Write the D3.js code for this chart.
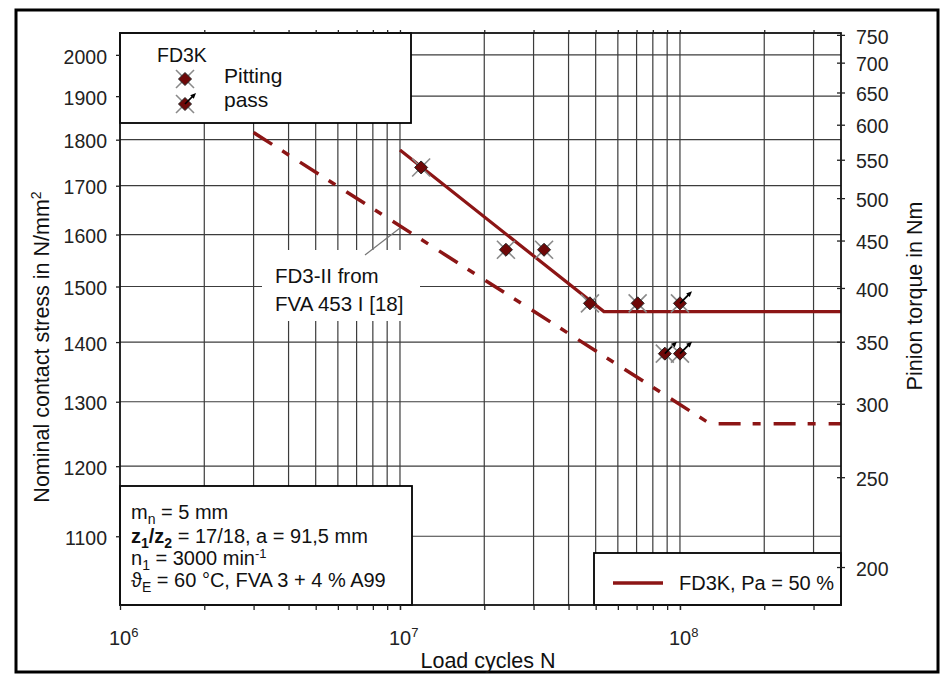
<!DOCTYPE html>
<html>
<head>
<meta charset="utf-8">
<script src="https://cdn.jsdelivr.net/npm/d3@7"></script>
<style>
body { margin: 0; background: #fff; }
svg { display: block; font-family: "Liberation Sans", Arial, sans-serif; }
</style>
</head>
<body>
<svg width="944" height="674"></svg>
<script>
// S-N curves (load cycles vs nominal contact stress)
var fd3kCycles = [1e7, 5.35e7, 3.76e8]
var fd3kStress = [1777, 1454, 1454]
var fd3iiCycles = [3e6, 1.28e8, 3.76e8]
var fd3iiStress = [1816, 1265, 1265]

// test points
var pittingCycles = [1.19e7, 2.39e7, 3.27e7, 4.77e7, 7.06e7]
var pittingStress = [1739, 1570, 1570, 1469, 1469]
var passCycles = [1.0e8, 8.83e7, 1.0e8]
var passStress = [1469, 1380, 1380]

// ticks
var stressTicks = [1100, 1200, 1300, 1400, 1500, 1600, 1700, 1800, 1900, 2000]
var torqueTicks = [200, 250, 300, 350, 400, 450, 500, 550, 600, 650, 700, 750]
var decadeTicks = [1e6, 1e7, 1e8]
var decadeExp = ["6", "7", "8"]
var cycleGrid = [2e6, 3e6, 4e6, 5e6, 6e6, 7e6, 8e6, 9e6, 1e7,
                 2e7, 3e7, 4e7, 5e7, 6e7, 7e7, 8e7, 9e7, 1e8, 2e8, 3e8]

var red = "#8c1515"
var gridColor = "#3c3c3c"

var svg = d3.select("svg")

var pLeft = 120, pRight = 841, pTop = 33, pBottom = 605

var x = d3.scaleLog().domain([1e6, 3.76e8]).range([pLeft, pRight])
var y = d3.scaleLog().domain([1010, 2055]).range([pBottom, pTop])
var yT = d3.scaleLog().domain([182, 753.5]).range([pBottom, pTop])

svg.append("rect")
    .attr("width", 944).attr("height", 674).attr("fill", "#fff")

// outer frame
svg.append("rect")
    .attr("x", 16).attr("y", 10)
    .attr("width", 922).attr("height", 662)
    .attr("fill", "none")
    .attr("stroke", "#000")
    .attr("stroke-width", 3)

// grid
var grid = svg.append("g").attr("stroke", gridColor).attr("stroke-width", 1.2)
grid.selectAll("line.v")
    .data(cycleGrid)
    .enter().append("line")
    .attr("class", "v")
    .attr("x1", function(d) { return x(d) })
    .attr("x2", function(d) { return x(d) })
    .attr("y1", pTop).attr("y2", pBottom)
grid.selectAll("line.h")
    .data(stressTicks)
    .enter().append("line")
    .attr("class", "h")
    .attr("x1", pLeft).attr("x2", pRight)
    .attr("y1", function(d) { return y(d) })
    .attr("y2", function(d) { return y(d) })

// annotation for FD3-II
svg.append("rect")
    .attr("x", 262).attr("y", 250)
    .attr("width", 158).attr("height", 71)
    .attr("fill", "#fff")
svg.append("line")
    .attr("x1", 365).attr("y1", 255)
    .attr("x2", x(1e7)).attr("y2", 228)
    .attr("stroke", "#777")
    .attr("stroke-width", 1.2)
var note = svg.append("text")
    .attr("font-size", 20.5)
    .attr("fill", "#111")
note.append("tspan").attr("x", 275).attr("y", 283).text("FD3-II from")
note.append("tspan").attr("x", 275).attr("y", 311).text("FVA 453 I [18]")

// curves
var line = d3.line()
    .x(function(d) { return x(d[0]) })
    .y(function(d) { return y(d[1]) })

svg.append("path")
    .datum(d3.zip(fd3iiCycles, fd3iiStress))
    .attr("d", line)
    .attr("fill", "none")
    .attr("stroke", red)
    .attr("stroke-width", 3.5)
    .attr("stroke-dasharray", "22,12,8,13")

svg.append("path")
    .datum(d3.zip(fd3kCycles, fd3kStress))
    .attr("d", line)
    .attr("fill", "none")
    .attr("stroke", red)
    .attr("stroke-width", 3.2)

// markers
function marker(g, pass, len) {
    g.append("line").attr("x1", -9).attr("y1", -9).attr("x2", 9).attr("y2", 9)
        .attr("stroke", "#8a8a8a").attr("stroke-width", 1.6)
    g.append("line").attr("x1", -9).attr("y1", 9).attr("x2", 9).attr("y2", -9)
        .attr("stroke", "#8a8a8a").attr("stroke-width", 1.6)
    g.append("path")
        .attr("d", "M0,-6.5L6.5,0L0,6.5L-6.5,0Z")
        .attr("fill", "#6e0808")
        .attr("stroke", "#222")
        .attr("stroke-width", 1)
    if (pass) {
        g.append("line").attr("x1", 0).attr("y1", 0).attr("x2", len - 3).attr("y2", -(len - 3))
            .attr("stroke", "#000").attr("stroke-width", 1.6)
        g.append("path")
            .attr("d", "M" + len + "," + (-len) + "L" + (len - 2.2) + "," + (-len + 5.8) +
                "L" + (len - 5.8) + "," + (-len + 2.2) + "Z")
            .attr("fill", "#000")
    }
}

svg.append("g").selectAll("g")
    .data(d3.zip(pittingCycles, pittingStress))
    .enter().append("g")
    .attr("transform", function(d) { return "translate(" + x(d[0]) + "," + y(d[1]) + ")" })
    .each(function() { marker(d3.select(this), false) })

svg.append("g").selectAll("g")
    .data(d3.zip(passCycles, passStress))
    .enter().append("g")
    .attr("transform", function(d) { return "translate(" + x(d[0]) + "," + y(d[1]) + ")" })
    .each(function() { marker(d3.select(this), true, 12) })

// legend top left
svg.append("rect")
    .attr("x", pLeft).attr("y", pTop)
    .attr("width", 291).attr("height", 90)
    .attr("fill", "#fff").attr("stroke", "#000").attr("stroke-width", 1.8)
svg.append("text").attr("x", 157).attr("y", 62).attr("font-size", 19.5).attr("fill", "#111").text("FD3K")
marker(svg.append("g").attr("transform", "translate(185,79)"), false)
marker(svg.append("g").attr("transform", "translate(185,104)"), true, 11)
svg.append("text").attr("x", 224).attr("y", 83).attr("font-size", 21).attr("fill", "#111").text("Pitting")
svg.append("text").attr("x", 224).attr("y", 107).attr("font-size", 21).attr("fill", "#111").text("pass")

// info box bottom left
svg.append("rect")
    .attr("x", pLeft).attr("y", 486)
    .attr("width", 292).attr("height", pBottom - 486)
    .attr("fill", "#fff").attr("stroke", "#000").attr("stroke-width", 1.8)

var infoLines = [
    [["m", ""], ["n", "sub"], [" = 5 mm", ""]],
    [["z", "b"], ["1", "subb"], ["/z", "b"], ["2", "subb"], [" = 17/18, a = 91,5 mm", ""]],
    [["n", ""], ["1", "sub"], [" = 3000 min", ""], ["-1", "sup"]],
    [["\u03d1", ""], ["E", "sub"], [" = 60 \u00b0C, FVA 3 + 4 % A99", ""]]
]
var infoY = [519, 542.5, 564.5, 587]

infoLines.forEach(function(parts, i) {
    var t = svg.append("text")
        .attr("x", 131).attr("y", infoY[i])
        .attr("font-size", 20).attr("fill", "#111")
    var shift = 0
    parts.forEach(function(p) {
        var s = t.append("tspan").text(p[0])
        var want = 0
        if (p[1] == "sub" || p[1] == "subb") {
            want = 5
            s.attr("font-size", 14)
        }
        if (p[1] == "sup") {
            want = -7
            s.attr("font-size", 13)
        }
        if (p[1] == "b" || p[1] == "subb") s.attr("font-weight", "bold")
        s.attr("dy", want - shift)
        shift = want
    })
})

// legend bottom right
svg.append("rect")
    .attr("x", 594).attr("y", 553)
    .attr("width", pRight - 594).attr("height", pBottom - 553)
    .attr("fill", "#fff").attr("stroke", "#000").attr("stroke-width", 1.8)
svg.append("line")
    .attr("x1", 613).attr("x2", 663).attr("y1", 583).attr("y2", 583)
    .attr("stroke", red).attr("stroke-width", 3.5)
svg.append("text").attr("x", 679).attr("y", 590).attr("font-size", 20).attr("fill", "#111")
    .text("FD3K, Pa = 50 %")

// plot frame
svg.append("rect")
    .attr("x", pLeft).attr("y", pTop)
    .attr("width", pRight - pLeft).attr("height", pBottom - pTop)
    .attr("fill", "none").attr("stroke", "#111").attr("stroke-width", 1.8)

// axes
var yAxis = svg.append("g")
    .attr("transform", "translate(" + pLeft + ",0)")
    .call(d3.axisLeft(y).tickValues(stressTicks).tickSize(4).tickPadding(9)
        .tickFormat(d3.format("d")))
var tAxis = svg.append("g")
    .attr("transform", "translate(" + pRight + ",0)")
    .call(d3.axisRight(yT).tickValues(torqueTicks).tickSize(4).tickPadding(11)
        .tickFormat(d3.format("d")))
tAxis.selectAll(".tick line").attr("x1", -4)
var xAxis = svg.append("g")
    .attr("transform", "translate(0," + pBottom + ")")
    .call(d3.axisBottom(x).tickValues(decadeTicks.concat(cycleGrid)).tickSize(5).tickFormat(""))
var topAxis = svg.append("g")
    .attr("transform", "translate(0," + pTop + ")")
    .call(d3.axisTop(x).tickValues(cycleGrid).tickSize(3).tickFormat(""))

;[yAxis, tAxis, xAxis, topAxis].forEach(function(a) {
    a.select(".domain").remove()
    a.selectAll(".tick line").attr("stroke", "#222").attr("stroke-width", 1.3)
    a.selectAll("text")
        .attr("font-family", "Liberation Sans, Arial, sans-serif")
        .attr("font-size", 19.5)
        .attr("fill", "#222")
        .attr("dy", "0.42em")
})

// decade labels 10^n
decadeTicks.forEach(function(d, i) {
    var t = svg.append("text")
        .attr("x", x(d) - 11).attr("y", 645)
        .attr("font-size", 20).attr("fill", "#222")
    t.append("tspan").text("10")
    t.append("tspan").attr("dy", -8).attr("font-size", 13).text(decadeExp[i])
})

// axis titles
svg.append("text")
    .attr("x", 488).attr("y", 668)
    .attr("text-anchor", "middle")
    .attr("font-size", 21.5).attr("fill", "#111")
    .text("Load cycles N")

var yl = svg.append("text")
    .attr("transform", "translate(48.5,347) rotate(-90)")
    .attr("text-anchor", "middle")
    .attr("font-size", 21.5).attr("fill", "#111")
yl.append("tspan").text("Nominal contact stress in N/mm")
yl.append("tspan").attr("dy", -8).attr("font-size", 14).text("2")

svg.append("text")
    .attr("transform", "translate(922,296) rotate(-90)")
    .attr("text-anchor", "middle")
    .attr("font-size", 21.5).attr("fill", "#111")
    .text("Pinion torque in Nm")
</script>
</body>
</html>
